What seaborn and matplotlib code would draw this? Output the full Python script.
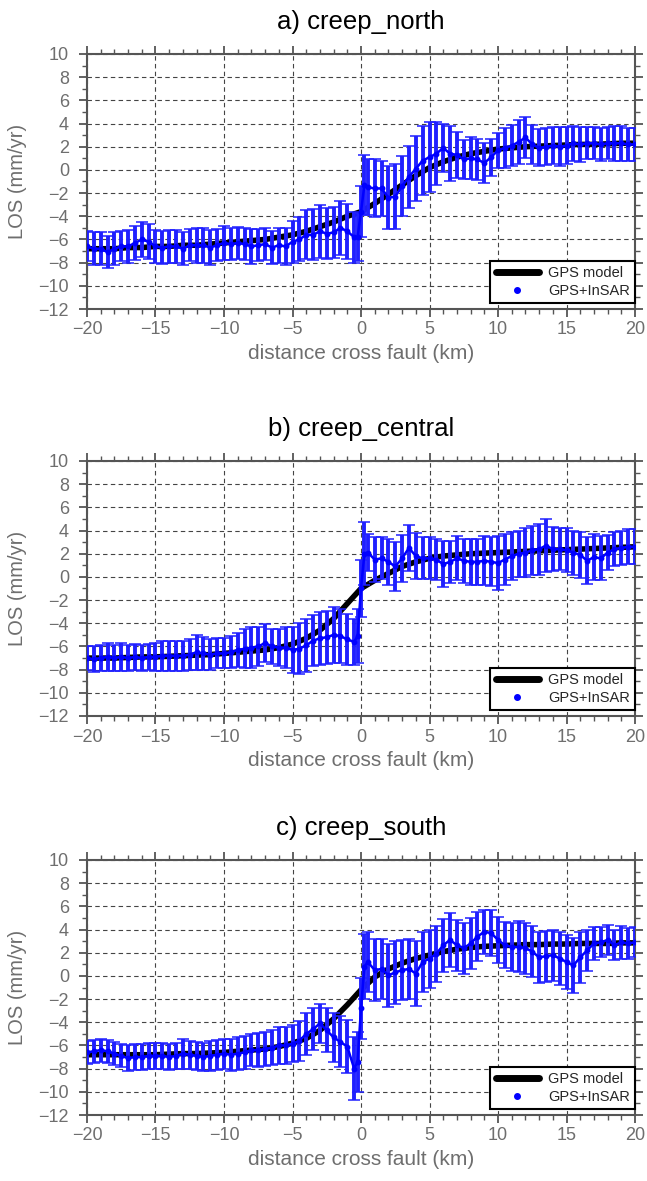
import numpy as np
import matplotlib
matplotlib.use("Agg")
import matplotlib.pyplot as plt
import seaborn as sns
import pandas as pd
from matplotlib.lines import Line2D
from matplotlib.ticker import MultipleLocator

# ---------------- data ----------------
titles = ["a) creep_north", "b) creep_central", "c) creep_south"]

x_obs = [-20.0, -19.5, -19.0, -18.5, -18.0, -17.5, -17.0, -16.5, -16.0, -15.5,
         -15.0, -14.5, -14.0, -13.5, -13.0, -12.5, -12.0, -11.5, -11.0, -10.5,
         -10.0, -9.5, -9.0, -8.5, -8.0, -7.5, -7.0, -6.5, -6.0, -5.5,
         -5.0, -4.5, -4.0, -3.5, -3.0, -2.5, -2.0, -1.5, -1.0, -0.5,
         -0.25, 0.0, 0.25,
         0.5, 1.0, 1.5, 2.0, 2.5, 3.0, 3.5, 4.0, 4.5, 5.0,
         5.5, 6.0, 6.5, 7.0, 7.5, 8.0, 8.5, 9.0, 9.5, 10.0,
         10.5, 11.0, 11.5, 12.0, 12.5, 13.0, 13.5, 14.0, 14.5, 15.0,
         15.5, 16.0, 16.5, 17.0, 17.5, 18.0, 18.5, 19.0, 19.5, 20.0]

los_north = [-6.6, -6.8, -6.8, -7.1, -6.8, -6.6, -6.6, -6.3, -6.0, -6.2,
             -6.6, -6.7, -6.6, -6.6, -6.8, -6.5, -6.5, -6.5, -6.7, -6.5,
             -6.3, -6.4, -6.3, -6.4, -6.6, -6.5, -6.4, -6.7, -6.5, -6.6,
             -6.2, -6.0, -5.6, -5.6, -5.3, -5.5, -5.4, -5.0, -5.3, -5.8,
             -5.8, -3.6, -1.3,
             -1.5, -1.6, -1.6, -2.4, -2.3, -1.4, -0.6, 0.1, 0.8, 1.1,
             1.4, 1.9, 1.4, 1.3, 0.9, 1.0, 0.9, 0.6, 1.1, 1.7,
             1.9, 2.1, 2.4, 2.8, 2.2, 1.9, 2.0, 2.1, 2.0, 2.1,
             2.3, 2.2, 2.3, 2.3, 2.2, 2.3, 2.3, 2.3, 2.2, 2.2]
err_north = [1.3, 1.4, 1.4, 1.4, 1.4, 1.3, 1.4, 1.5, 1.5, 1.5,
             1.4, 1.4, 1.4, 1.4, 1.4, 1.4, 1.5, 1.5, 1.5, 1.4,
             1.5, 1.4, 1.4, 1.4, 1.5, 1.4, 1.4, 1.4, 1.5, 1.6,
             1.8, 1.9, 2.1, 2.2, 2.3, 2.2, 2.2, 2.3, 2.4, 2.2,
             2.1, 2.2, 2.6,
             2.4, 2.5, 2.4, 2.7, 2.8, 2.6, 2.7, 2.8, 3.0, 3.0,
             2.7, 2.1, 2.4, 2.0, 1.7, 1.8, 1.8, 1.7, 1.6, 1.5,
             1.7, 1.8, 1.9, 1.8, 1.7, 1.6, 1.6, 1.6, 1.7, 1.6,
             1.5, 1.5, 1.4, 1.4, 1.4, 1.4, 1.5, 1.5, 1.4, 1.4]

los_central = [-7.0, -7.1, -7.0, -6.9, -7.0, -6.9, -7.0, -6.9, -7.0, -6.9,
               -6.9, -6.8, -6.8, -6.8, -6.8, -6.7, -6.5, -6.6, -6.7, -6.6,
               -6.6, -6.5, -6.3, -6.2, -6.1, -6.0, -5.7, -6.0, -6.1, -6.1,
               -6.3, -6.2, -5.9, -5.5, -5.3, -5.2, -5.0, -5.1, -5.4, -5.6,
               -5.1, -1.0, 2.0,
               2.1, 1.5, 1.6, 1.3, 0.9, 1.6, 2.5, 1.8, 1.6, 1.6,
               1.5, 1.1, 1.3, 1.6, 1.4, 1.3, 1.3, 1.4, 1.3, 1.2,
               1.5, 1.8, 2.0, 2.1, 2.3, 2.4, 2.7, 2.4, 2.4, 2.3,
               2.1, 1.9, 1.4, 1.7, 1.6, 2.1, 2.4, 2.5, 2.6, 2.6]
err_central = [1.0, 1.1, 1.1, 1.2, 1.1, 1.2, 1.1, 1.1, 1.1, 1.1,
               1.2, 1.3, 1.3, 1.3, 1.3, 1.3, 1.5, 1.4, 1.3, 1.3,
               1.3, 1.4, 1.5, 1.7, 1.8, 1.7, 1.6, 1.5, 1.6, 1.8,
               2.0, 2.2, 2.3, 2.2, 2.3, 2.3, 2.4, 2.3, 2.2, 2.0,
               2.3, 2.5, 2.7,
               1.6, 1.9, 1.8, 2.0, 2.1, 2.0, 2.0, 2.0, 1.8, 1.8,
               1.8, 2.0, 1.8, 1.9, 1.9, 2.0, 2.0, 2.1, 2.1, 2.3,
               2.2, 2.1, 2.0, 2.1, 2.1, 2.2, 2.3, 1.9, 1.8, 1.9,
               1.9, 2.0, 2.0, 2.0, 1.9, 1.5, 1.5, 1.5, 1.5, 1.5]

los_south = [-6.6, -6.5, -6.4, -6.5, -6.7, -6.9, -7.1, -7.0, -7.0, -6.9,
             -6.9, -6.9, -7.0, -6.9, -6.7, -6.8, -6.9, -7.0, -6.9, -6.8,
             -6.7, -6.8, -6.7, -6.6, -6.4, -6.4, -6.3, -6.2, -6.0, -6.0,
             -5.85, -5.6, -5.0, -4.6, -4.1, -4.7, -5.3, -5.7, -6.1, -8.0,
             -7.4, -2.8, 0.8,
             1.2, 0.5, 0.6, 0.05, 0.3, 0.5, 0.6, 0.2, 1.2, 1.5,
             1.9, 2.65, 3.1, 2.65, 2.4, 2.8, 3.4, 3.8, 3.7, 3.1,
             2.65, 2.5, 2.5, 2.4, 2.1, 1.6, 1.7, 1.8, 1.5, 1.2,
             0.9, 1.6, 2.2, 2.8, 2.9, 3.1, 2.65, 2.9, 2.8, 2.9]
err_south = [1.0, 1.0, 1.0, 1.0, 1.0, 1.0, 1.1, 1.1, 1.1, 1.1,
             1.1, 1.1, 1.1, 1.1, 1.3, 1.2, 1.2, 1.2, 1.3, 1.3,
             1.3, 1.4, 1.4, 1.4, 1.4, 1.5, 1.5, 1.5, 1.6, 1.6,
             1.6, 1.7, 1.8, 1.8, 1.7, 1.9, 2.1, 2.2, 2.3, 2.7,
             2.6, 2.6, 2.8,
             2.6, 2.7, 2.6, 2.7, 2.7, 2.6, 2.6, 2.8, 2.6, 2.5,
             2.4, 2.3, 2.3, 2.2, 2.2, 2.2, 2.1, 1.9, 2.0, 2.0,
             2.0, 2.1, 2.2, 2.2, 2.2, 2.2, 2.2, 2.2, 2.3, 2.3,
             2.4, 2.2, 1.8, 1.4, 1.3, 1.3, 1.3, 1.4, 1.3, 1.3]

x_model = [-20, -19, -18, -17, -16, -15, -14, -13, -12, -11, -10,
           -9, -8, -7, -6, -5, -4, -3, -2, -1, 0,
           1, 2, 3, 4, 5, 6, 7, 8, 9, 10,
           11, 12, 13, 14, 15, 16, 17, 18, 19, 20]
model_north = [-6.8, -6.8, -6.8, -6.7, -6.7, -6.6, -6.6, -6.5, -6.5, -6.4, -6.3,
               -6.2, -6.1, -6.0, -5.8, -5.6, -5.3, -4.9, -4.5, -4.0, -3.6,
               -2.9, -2.1, -1.3, -0.5, 0.2, 0.7, 1.1, 1.4, 1.6, 1.8,
               1.9, 2.0, 2.05, 2.1, 2.15, 2.2, 2.2, 2.25, 2.3, 2.3]
model_central = [-7.0, -7.0, -7.0, -6.95, -6.9, -6.9, -6.85, -6.8, -6.75, -6.7, -6.6,
                 -6.5, -6.4, -6.3, -6.1, -5.8, -5.3, -4.6, -3.6, -2.3, -1.0,
                 -0.3, 0.3, 0.9, 1.3, 1.6, 1.8, 1.9, 2.0, 2.05, 2.1,
                 2.15, 2.2, 2.25, 2.3, 2.35, 2.4, 2.45, 2.5, 2.55, 2.6]
model_south = [-6.8, -6.8, -6.8, -6.8, -6.8, -6.8, -6.75, -6.7, -6.7, -6.65, -6.6,
               -6.5, -6.4, -6.3, -6.1, -5.8, -5.4, -4.7, -3.7, -2.5, -1.2,
               -0.1, 0.6, 1.1, 1.5, 1.8, 2.1, 2.3, 2.45, 2.55, 2.6,
               2.65, 2.7, 2.7, 2.75, 2.75, 2.8, 2.8, 2.8, 2.85, 2.85]

obs_sets = [(los_north, err_north), (los_central, err_central), (los_south, err_south)]
model_sets = [model_north, model_central, model_south]

x_ticks = [-20, -15, -10, -5, 0, 5, 10, 15, 20]
y_ticks = [-12, -10, -8, -6, -4, -2, 0, 2, 4, 6, 8, 10]

# ---------------- style ----------------
sns.set_theme(style="ticks")
plt.rcParams['font.family'] = ['Liberation Sans', 'DejaVu Sans']
plt.rcParams['axes.unicode_minus'] = True

W, H = 647, 1181
fig = plt.figure(figsize=(W / 100, H / 100), dpi=100)

spine_c = "#555555"
label_c = "#6e6e6e"
left, right = 87, 635
tops = [54, 461, 860]
ax_h = 255

for i in range(3):
    ax = fig.add_axes([left / W, 1 - (tops[i] + ax_h) / H, (right - left) / W, ax_h / H])
    y, e = obs_sets[i]
    dfm = pd.DataFrame({"x": x_model, "y": model_sets[i]})
    sns.lineplot(data=dfm, x="x", y="y", ax=ax, color="black", lw=4.0,
                 zorder=3, legend=False)
    ax.errorbar(x_obs, y, yerr=e, fmt="-o", color="#0000ff", ecolor="#2020ff",
                elinewidth=2.8, capsize=4.5, capthick=1.1, lw=1.8, ms=3.2,
                zorder=4)
    ax.set_xlim(-20, 20)
    ax.set_ylim(-12, 10)
    ax.set_xticks(x_ticks)
    ax.set_yticks(y_ticks)
    ax.xaxis.set_minor_locator(MultipleLocator(1))
    ax.yaxis.set_minor_locator(MultipleLocator(1))
    ax.grid(True, which="major", color="#444444", lw=0.8, ls=(0, (4, 3)))
    ax.set_axisbelow(True)
    for s in ax.spines.values():
        s.set_color(spine_c)
        s.set_linewidth(1.5)
        s.set_visible(True)
    ax.tick_params(which="both", direction="out", top=True, right=True,
                   color=spine_c, labelcolor=label_c, labelsize=13)
    ax.tick_params(which="major", length=6, width=1.3)
    ax.tick_params(axis="x", which="major", pad=3)
    ax.tick_params(axis="y", which="major", pad=7)
    ax.tick_params(which="minor", length=3.5, width=1.0)
    ax.set_xlabel("distance cross fault (km)", color=label_c, fontsize=15, labelpad=4)
    ax.set_ylabel("LOS (mm/yr)", color=label_c, fontsize=14.5, labelpad=8)
    ax.set_title(titles[i], fontsize=18.5, color="black", pad=18)
    handles = [Line2D([], [], color="black", lw=5),
               Line2D([], [], color="#0000ff", marker="o", ls="none", ms=4)]
    leg = ax.legend(handles, ["GPS model", "GPS+InSAR"], loc="lower right",
                    bbox_to_anchor=(1.0, 6 / ax_h),
                    fontsize=10.5, handlelength=3.0, borderaxespad=0.0,
                    fancybox=False, framealpha=1, edgecolor="black",
                    borderpad=0.35, labelspacing=0.25, handletextpad=0.6)
    leg.get_frame().set_linewidth(1.5)

fig.savefig("out.png", dpi=100)
